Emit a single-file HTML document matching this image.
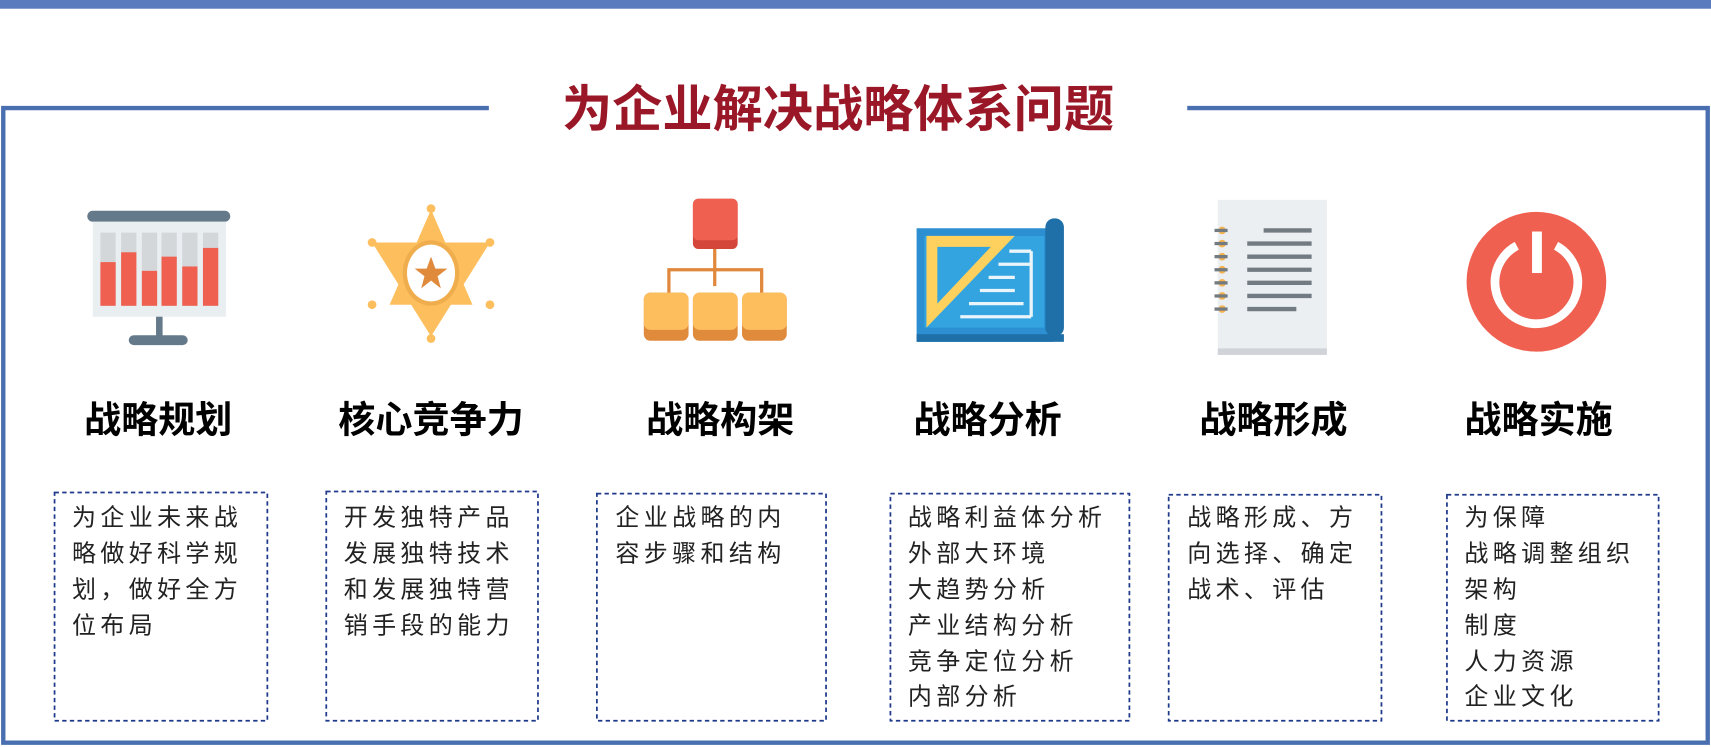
<!DOCTYPE html>
<html><head><meta charset="utf-8"><style>
html,body{margin:0;padding:0;background:#fff;width:1711px;height:747px;overflow:hidden}
svg{display:block}
.t{font-family:"Liberation Sans","Noto Sans CJK SC",sans-serif}
.lab{font-size:34px;font-weight:bold;fill:#000;text-anchor:middle}
.bx{font-size:22px;fill:#222;letter-spacing:4px}
.box{fill:none;stroke:#1f3a8a;stroke-width:1.6;stroke-dasharray:4 3}
</style></head><body>
<svg width="1711" height="747" viewBox="0 0 1568 684" preserveAspectRatio="none" xmlns="http://www.w3.org/2000/svg">
<rect x="0" y="0" width="1568" height="8" fill="#5b7bbf"/>
<path d="M448 99 H3 V680 H1565 V99 H1088" fill="none" stroke="#4a6fb0" stroke-width="4"/>
<text class="t" x="768" y="116" text-anchor="middle" font-size="46" font-weight="bold" fill="#9a1727">为企业解决战略体系问题</text>

<rect x="80" y="193" width="131" height="10" rx="5" fill="#64798a"/>
<rect x="85" y="203" width="122" height="87" fill="#e9eef1"/>
<g fill="#d3d7da"><rect x="92" y="213" width="14" height="67"/><rect x="111" y="213" width="14" height="67"/><rect x="130" y="213" width="14" height="67"/><rect x="148" y="213" width="14" height="67"/><rect x="167" y="213" width="14" height="67"/><rect x="186" y="213" width="14" height="67"/></g>
<g fill="#ef6050"><rect x="92" y="240" width="14" height="40"/><rect x="111" y="231" width="14" height="49"/><rect x="130" y="248" width="14" height="32"/><rect x="148" y="235" width="14" height="45"/><rect x="167" y="244" width="14" height="36"/><rect x="186" y="227" width="14" height="53"/></g>
<rect x="143" y="290" width="6" height="20" fill="#64798a"/>
<rect x="118" y="307" width="54" height="9" rx="4.5" fill="#64798a"/>

<g fill="#fdbf5e">
<polygon points="395,192 433,279 357,279"/>
<polygon points="395,308 433,222 357,222"/>
<polygon points="341,222 449,222 395,308"/>
<circle cx="395" cy="191" r="4"/><circle cx="395" cy="310" r="4"/>
<circle cx="341" cy="222" r="4"/><circle cx="449" cy="222" r="4"/>
<circle cx="341" cy="279" r="4"/><circle cx="449" cy="279" r="4"/>
</g>
<ellipse cx="395" cy="250" rx="26" ry="30" fill="#f0ad4e"/>
<ellipse cx="395" cy="250" rx="22" ry="26" fill="#fff"/>
<polygon points="395,235 399,246 410,246 401,253 404,264 395,257 386,264 389,253 380,246 391,246" fill="#e08a3c"/>

<rect x="635" y="182" width="41" height="46" rx="5" fill="#d4453a"/>
<rect x="635" y="182" width="41" height="38" rx="5" fill="#ef6050"/>
<g stroke="#e0883d" stroke-width="3" fill="none"><path d="M655 228 V262"/><path d="M613 268 V247 H698 V268"/></g>
<g><rect x="590" y="268" width="41" height="44" rx="6" fill="#e08a3c"/><rect x="590" y="268" width="41" height="34" rx="6" fill="#fdbf5e"/>
<rect x="635" y="268" width="41" height="44" rx="6" fill="#e08a3c"/><rect x="635" y="268" width="41" height="34" rx="6" fill="#fdbf5e"/>
<rect x="680" y="268" width="41" height="44" rx="6" fill="#e08a3c"/><rect x="680" y="268" width="41" height="34" rx="6" fill="#fdbf5e"/></g>

<rect x="840" y="209" width="125" height="104" fill="#2b8fd1"/>
<rect x="840" y="306" width="135" height="7" fill="#1f6fa8"/>
<rect x="958" y="200" width="17" height="108" rx="8" fill="#1f6fa8"/>
<rect x="847" y="216" width="110" height="84" fill="#33a4e0"/>
<polygon points="849,216 930,216 849,300" fill="#fed15e"/>
<polygon points="859,226 908,226 859,278" fill="#33a4e0"/>
<g stroke="#e9f4fb" stroke-width="3"><path d="M880 290 H945"/><path d="M888 278 H938"/><path d="M898 266 H930"/><path d="M906 254 H930"/><path d="M915 242 H945"/><path d="M925 230 H945"/><path d="M945 230 V290"/></g>

<rect x="1116" y="183" width="100" height="142" fill="#ebeff2"/>
<rect x="1116" y="319" width="100" height="6" fill="#d0d4d8"/>
<g fill="#f6b24e"><circle cx="1120" cy="211" r="3.5"/><circle cx="1120" cy="223" r="3.5"/><circle cx="1120" cy="235" r="3.5"/><circle cx="1120" cy="247" r="3.5"/><circle cx="1120" cy="259" r="3.5"/><circle cx="1120" cy="271" r="3.5"/><circle cx="1120" cy="283" r="3.5"/></g>
<g stroke="#737b82" stroke-width="3"><path d="M1113 211 H1125"/><path d="M1113 223 H1125"/><path d="M1113 235 H1125"/><path d="M1113 247 H1125"/><path d="M1113 259 H1125"/><path d="M1113 271 H1125"/><path d="M1113 283 H1125"/></g>
<g stroke="#737b82" stroke-width="4"><path d="M1158 211 H1202"/><path d="M1143 223 H1202"/><path d="M1143 235 H1202"/><path d="M1143 247 H1202"/><path d="M1143 259 H1202"/><path d="M1143 271 H1202"/><path d="M1143 283 H1188"/></g>

<circle cx="1408" cy="258" r="64" fill="#ef6050"/>
<path d="M1390 225 A38 38 0 1 0 1426 225" fill="none" stroke="#fff" stroke-width="8"/>
<rect x="1404" y="212" width="9" height="38" fill="#fff"/>

<g class="t lab">
<text x="145" y="396">战略规划</text>
<text x="395" y="396">核心竞争力</text>
<text x="660" y="396">战略构架</text>
<text x="905" y="396">战略分析</text>
<text x="1167" y="396">战略形成</text>
<text x="1410" y="396">战略实施</text>
</g>

<rect class="box" x="50" y="451" width="195" height="209"/>
<rect class="box" x="299" y="450" width="194" height="210"/>
<rect class="box" x="547" y="452" width="210" height="208"/>
<rect class="box" x="816" y="452" width="219" height="208"/>
<rect class="box" x="1071" y="453" width="195" height="207"/>
<rect class="box" x="1326" y="453" width="194" height="207"/>

<g class="t bx">
<text x="66" y="481">为企业未来战</text><text x="66" y="514">略做好科学规</text><text x="66" y="547">划，做好全方</text><text x="66" y="580">位布局</text>
<text x="315" y="481">开发独特产品</text><text x="315" y="514">发展独特技术</text><text x="315" y="547">和发展独特营</text><text x="315" y="580">销手段的能力</text>
<text x="564" y="481">企业战略的内</text><text x="564" y="514">容步骤和结构</text>
<text x="832" y="481">战略利益体分析</text><text x="832" y="514">外部大环境</text><text x="832" y="547">大趋势分析</text><text x="832" y="580">产业结构分析</text><text x="832" y="613">竞争定位分析</text><text x="832" y="645">内部分析</text>
<text x="1088" y="481">战略形成、方</text><text x="1088" y="514">向选择、确定</text><text x="1088" y="547">战术、评估</text>
<text x="1342" y="481">为保障</text><text x="1342" y="514">战略调整组织</text><text x="1342" y="547">架构</text><text x="1342" y="580">制度</text><text x="1342" y="613">人力资源</text><text x="1342" y="645">企业文化</text>
</g>
</svg>
</body></html>
